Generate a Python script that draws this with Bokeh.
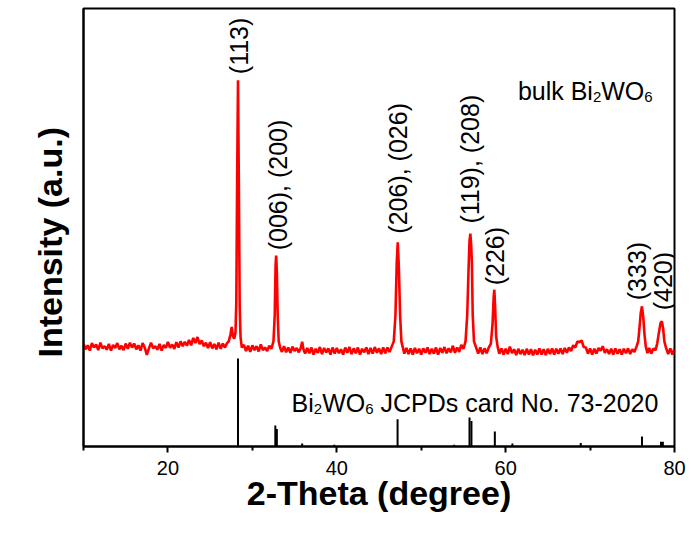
import numpy as np
from bokeh.plotting import figure
from bokeh.models import Range1d, FixedTicker, ColumnDataSource, Title
from bokeh.core.properties import value
from bokeh.embed import file_html
from bokeh.resources import INLINE

# ---- measured XRD pattern of bulk Bi2WO6 (2-theta in degrees, intensity a.u.) ----
two_theta = [
    10.00, 10.25, 10.50, 10.75, 11.00, 11.25, 11.50, 11.75, 12.00, 12.25, 12.50, 12.75,
    13.00, 13.25, 13.50, 13.75, 14.00, 14.25, 14.50, 14.75, 15.00, 15.25, 15.50, 15.75,
    16.00, 16.25, 16.50, 16.75, 17.00, 17.25, 17.50, 17.75, 18.00, 18.25, 18.50, 18.75,
    19.00, 19.25, 19.50, 19.75, 20.00, 20.25, 20.50, 20.75, 21.00, 21.25, 21.50, 21.75,
    22.00, 22.25, 22.50, 22.75, 23.00, 23.25, 23.50, 23.75, 24.00, 24.25, 24.50, 24.75,
    25.00, 25.25, 25.50, 25.75, 26.00, 26.25, 26.50, 26.75, 27.00, 27.20, 27.40, 27.55,
    27.70, 27.85, 28.00, 28.10, 28.20, 28.30, 28.40, 28.50, 28.60, 28.75, 29.00, 29.25,
    29.50, 29.75, 30.00, 30.25, 30.50, 30.75, 31.00, 31.25, 31.50, 31.75, 32.00, 32.25,
    32.50, 32.65, 32.75, 32.82, 32.90, 33.00, 33.12, 33.30, 33.50, 33.75, 34.00, 34.25,
    34.50, 34.75, 35.00, 35.25, 35.50, 35.75, 35.90, 36.05, 36.25, 36.50, 36.75, 37.00,
    37.25, 37.50, 37.75, 38.00, 38.25, 38.50, 38.75, 39.00, 39.25, 39.50, 39.75, 40.00,
    40.25, 40.50, 40.75, 41.00, 41.25, 41.50, 41.75, 42.00, 42.25, 42.50, 42.75, 43.00,
    43.25, 43.50, 43.75, 44.00, 44.25, 44.50, 44.75, 45.00, 45.25, 45.50, 45.75, 46.00,
    46.25, 46.50, 46.75, 46.95, 47.10, 47.22, 47.35, 47.50, 47.65, 47.85, 48.00, 48.25,
    48.50, 48.75, 49.00, 49.25, 49.50, 49.75, 50.00, 50.25, 50.50, 50.75, 51.00, 51.25,
    51.50, 51.75, 52.00, 52.25, 52.50, 52.75, 53.00, 53.25, 53.50, 53.75, 54.00, 54.25,
    54.50, 54.75, 55.00, 55.25, 55.45, 55.60, 55.72, 55.82, 55.92, 56.00, 56.10, 56.25,
    56.50, 56.75, 57.00, 57.25, 57.50, 57.75, 58.00, 58.25, 58.45, 58.58, 58.66, 58.75,
    58.88, 59.05, 59.25, 59.50, 59.75, 60.00, 60.25, 60.50, 60.75, 61.00, 61.25, 61.50,
    61.75, 62.00, 62.25, 62.50, 62.75, 63.00, 63.25, 63.50, 63.75, 64.00, 64.25, 64.50,
    64.75, 65.00, 65.25, 65.50, 65.75, 66.00, 66.25, 66.50, 66.75, 67.00, 67.25, 67.50,
    67.75, 68.00, 68.25, 68.50, 68.75, 69.00, 69.25, 69.50, 69.75, 70.00, 70.25, 70.50,
    70.75, 71.00, 71.25, 71.50, 71.75, 72.00, 72.25, 72.50, 72.75, 73.00, 73.25, 73.50,
    73.75, 74.00, 74.25, 74.50, 74.75, 75.00, 75.25, 75.50, 75.70, 75.85, 76.00, 76.15,
    76.30, 76.45, 76.60, 76.80, 77.00, 77.25, 77.50, 77.75, 77.95, 78.15, 78.35, 78.50,
    78.65, 78.80, 79.00, 79.25, 79.50, 79.75, 80.00,
]
intensity = [
    23.5, 22.2, 23.1, 21.9, 23.6, 22.6, 23.3, 22.0, 23.7, 22.4, 22.9, 22.1,
    23.4, 21.9, 23.2, 22.5, 23.6, 22.2, 23.0, 22.0, 23.5, 22.3, 23.7, 22.6,
    23.5, 22.2, 23.1, 21.9, 23.6, 22.6, 20.9, 22.4, 23.7, 22.4, 22.9, 22.1,
    23.4, 21.9, 23.2, 22.5, 23.9, 22.5, 23.3, 22.3, 23.8, 22.6, 24.0, 22.9,
    23.9, 23.0, 24.3, 23.1, 24.8, 23.6, 25.0, 23.4, 24.2, 22.9, 23.7, 22.5,
    23.8, 22.4, 23.4, 22.2, 23.7, 22.3, 23.5, 22.6, 23.6, 24.0, 25.5, 27.3,
    25.2, 24.6, 26.0, 33.0, 62.0, 83.6, 60.0, 32.0, 25.0, 22.6, 23.2, 21.8,
    23.0, 21.6, 23.1, 22.0, 22.9, 21.7, 23.3, 22.0, 22.6, 21.8, 23.0, 22.3,
    24.0, 30.0, 41.5, 43.6, 40.0, 30.0, 24.0, 22.5, 21.6, 22.9, 21.5, 22.6,
    21.4, 22.8, 21.8, 22.5, 21.5, 22.6, 23.9, 22.2, 21.2, 22.5, 21.3, 22.6,
    21.0, 22.3, 21.4, 22.7, 21.1, 22.5, 21.5, 22.4, 21.0, 22.6, 21.2, 22.5,
    21.3, 22.2, 21.0, 22.6, 21.4, 22.7, 21.1, 22.4, 21.3, 22.6, 21.0, 22.3,
    21.5, 22.6, 21.1, 22.5, 21.2, 22.7, 21.4, 22.4, 21.1, 22.6, 21.3, 22.6,
    21.6, 22.8, 24.0, 30.0, 42.0, 46.6, 41.0, 30.0, 24.0, 22.4, 21.2, 22.5,
    21.1, 22.4, 21.0, 22.5, 21.3, 22.3, 21.0, 22.4, 21.4, 22.6, 21.1, 22.3,
    21.2, 22.6, 21.0, 22.5, 21.4, 22.7, 21.3, 22.4, 21.5, 23.0, 21.4, 22.6,
    21.6, 23.2, 22.3, 24.0, 30.0, 40.0, 47.0, 48.6, 46.0, 42.0, 30.0, 24.0,
    22.6, 21.2, 22.6, 21.1, 22.4, 21.3, 22.6, 23.5, 28.0, 34.0, 35.8, 32.0,
    25.0, 22.8, 21.2, 22.4, 21.0, 22.3, 21.1, 22.8, 21.3, 22.2, 20.9, 22.3,
    21.1, 22.1, 20.9, 22.3, 21.0, 22.2, 20.8, 22.1, 21.0, 22.4, 21.0, 22.2,
    20.9, 22.3, 21.1, 22.4, 21.0, 22.3, 21.2, 22.4, 21.1, 22.5, 21.4, 22.6,
    21.8, 23.1, 22.6, 24.0, 23.8, 24.2, 22.7, 22.6, 21.2, 22.4, 21.0, 22.3,
    21.2, 22.5, 21.9, 22.9, 21.4, 22.2, 21.1, 22.3, 21.0, 22.4, 21.2, 22.2,
    21.0, 22.3, 21.3, 22.4, 21.1, 22.2, 21.6, 22.8, 24.0, 27.0, 30.5, 32.0,
    29.5, 25.5, 22.8, 21.3, 22.5, 21.2, 22.4, 22.0, 23.5, 26.0, 28.2, 28.6,
    27.0, 24.0, 22.5, 21.1, 22.4, 21.0, 22.3,
]

# ---- JCPDS card No. 73-2020 reference lines ----
card_theta = [28.30, 32.72, 32.90, 35.90, 39.70, 47.20, 53.90, 55.72, 55.95,
              58.72, 60.80, 68.90, 76.15, 78.40, 78.62]
card_height = [20.1, 4.8, 4.0, 0.7, 0.4, 6.2, 0.4, 6.6, 5.8,
               3.4, 0.7, 0.8, 2.3, 1.1, 1.1]

# ---- peak indexing ----
peak_labels = ["(113)", "(006), (200)", "(206), (026)", "(119), (208)",
               "(226)", "(333)", "(420)"]
peak_theta = [28.30, 32.82, 47.22, 55.82, 58.66, 76.15, 78.50]

x_ticks = [20, 40, 60, 80]
x_minor = [10, 30, 50, 70]

FONT = "Liberation Sans"
FS = 25          # annotation font size (px)
SUB = 15         # subscript font size (px)

# Arial / Liberation Sans advance widths (em) for placing subscripts
ADV = {"b": .556, "u": .556, "l": .222, "k": .5, " ": .278, "B": .667, "i": .222,
       "W": .944, "O": .778, "2": .556, "6": .556}


def text_width(s, size):
    return sum(ADV.get(c, .556) for c in s) * size


p = figure(width=691, height=539, output_backend="svg", toolbar_location=None,
           x_range=Range1d(10, 80), y_range=Range1d(0, 100),
           min_border_left=83, min_border_right=17, min_border_top=8,
           min_border_bottom=93)
p.background_fill_color = "white"
p.border_fill_color = "white"
p.outline_line_color = "black"
p.outline_line_width = 2
p.grid.visible = False

# pattern
p.line(two_theta, intensity, line_color="#ff0000", line_width=2.6)

# card lines
p.segment(x0=card_theta, y0=[0] * len(card_theta), x1=card_theta, y1=card_height,
          line_color="black", line_width=2)

# peak labels (placed just above each indexed peak)
lookup = dict(zip(two_theta, intensity))
label_x_shift = [0.15, 0.25, 0.08, -0.07, 0.04, -0.55, 0.10]
label_pad = [1.4, 1.2, 2.0, 2.3, 1.0, 1.4, 2.5]
lab_src = ColumnDataSource(dict(
    x=[t + s for t, s in zip(peak_theta, label_x_shift)],
    y=[lookup[t] + d for t, d in zip(peak_theta, label_pad)],
    text=peak_labels))
p.text(x="x", y="y", text="text", source=lab_src, angle=np.pi / 2,
       text_align="left", text_baseline="middle", text_font=value(FONT),
       text_font_size=f"{FS}px", text_color="black")


def formula_text(x, y, pieces):
    """pieces: list of (string, is_subscript); subscripts drawn smaller and lower"""
    off = 0.0
    for s, sub in pieces:
        size = SUB if sub else FS
        lead = len(s) - len(s.lstrip(" "))
        off += lead * ADV[" "] * size
        s = s.lstrip(" ")
        p.text(x=[x], y=[y], text=[s], x_offset=off, y_offset=6 if sub else 0,
               text_align="left", text_baseline="alphabetic",
               text_font=value(FONT), text_font_size=f"{size}px",
               text_color="black")
        off += text_width(s, size)


formula_text(61.45, 81.2, [("bulk Bi", False), ("2", True), ("WO", False), ("6", True)])
formula_text(34.65, 10.0, [("Bi", False), ("2", True), ("WO", False), ("6", True),
                           (" JCPDs card No. 73-2020", False)])

# x axis
xa = p.xaxis[0]
xa.ticker = FixedTicker(ticks=x_ticks, minor_ticks=x_minor)
xa.axis_line_width = 2
xa.major_tick_line_width = 2
xa.minor_tick_line_width = 2
xa.major_tick_out = 6
xa.major_tick_in = 0
xa.minor_tick_out = 4
xa.minor_tick_in = 0
xa.major_label_text_font = FONT
xa.major_label_text_font_size = "20px"
xa.major_label_text_color = "black"
xa.major_label_standoff = 8
xa.axis_label = "2-Theta (degree)"
xa.axis_label_text_font = FONT
xa.axis_label_text_font_style = "bold"
xa.axis_label_text_font_size = "34px"
xa.axis_label_text_color = "black"
xa.axis_label_standoff = -4

# y axis (no ticks); its title sits in the left panel, a little below centre
ya = p.yaxis[0]
ya.ticker = FixedTicker(ticks=[])
ya.axis_line_width = 2
ya.major_tick_line_color = None
ya.minor_tick_line_color = None
ya.major_label_text_font_size = "0px"

p.add_layout(Title(text="Intensity (a.u.)", align="left", offset=89, standoff=30,
                   text_font=FONT, text_font_style="bold", text_font_size="34px",
                   text_color="black"), "left")

open("out.html", "w").write(file_html(p, INLINE))
